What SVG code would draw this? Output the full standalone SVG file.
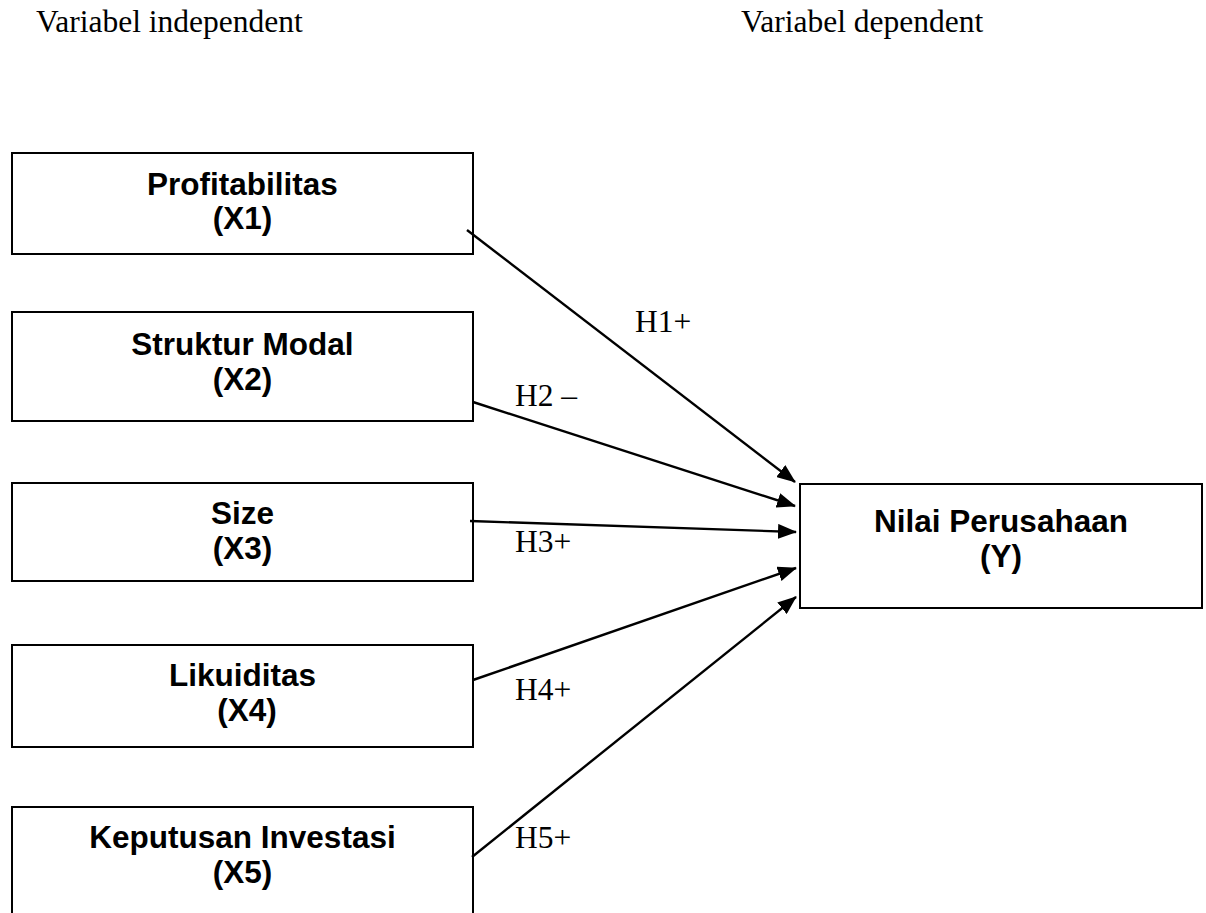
<svg xmlns="http://www.w3.org/2000/svg" width="1206" height="913" viewBox="0 0 1206 913">
  <style>
    .box { fill: #ffffff; stroke: #000000; stroke-width: 2; }
    .lbl { font-family: "Liberation Sans", Arial, sans-serif; font-weight: bold; font-size: 31.5px; fill: #000000; text-anchor: middle; }
    .hdr { font-family: "Liberation Serif", "Times New Roman", serif; font-size: 31.5px; fill: #000000; }
    .conn { stroke: #000000; stroke-width: 2.4; fill: none; marker-end: url(#arrow); }
  </style>
  <defs>
    <marker id="arrow" markerUnits="userSpaceOnUse" viewBox="0 0 19 15" refX="18" refY="7.5" markerWidth="19" markerHeight="15" orient="auto">
      <path d="M0,0 L19,7.5 L0,15 Z" fill="#000000"/>
    </marker>
  </defs>
  <rect width="1206" height="913" fill="#ffffff"/>

  <g id="headers">
    <text class="hdr" x="36" y="32">Variabel independent</text>
    <text class="hdr" x="741" y="32">Variabel dependent</text>
  </g>

  <g id="x1">
    <rect class="box" x="12" y="153" width="461" height="101"/>
    <text class="lbl" x="242.5" y="195">Profitabilitas</text>
    <text class="lbl" x="242.5" y="229">(X1)</text>
  </g>
  <g id="x2">
    <rect class="box" x="12" y="312" width="461" height="109"/>
    <text class="lbl" x="242.5" y="355">Struktur Modal</text>
    <text class="lbl" x="242.5" y="390">(X2)</text>
  </g>
  <g id="x3">
    <rect class="box" x="12" y="483" width="461" height="98"/>
    <text class="lbl" x="242.5" y="524">Size</text>
    <text class="lbl" x="242.5" y="559">(X3)</text>
  </g>
  <g id="x4">
    <rect class="box" x="12" y="645" width="461" height="102"/>
    <text class="lbl" x="242.5" y="686">Likuiditas</text>
    <text class="lbl" x="247" y="721">(X4)</text>
  </g>
  <g id="x5">
    <rect class="box" x="12" y="807" width="461" height="120"/>
    <text class="lbl" x="242.5" y="848">Keputusan Investasi</text>
    <text class="lbl" x="242.5" y="883">(X5)</text>
  </g>
  <g id="y">
    <rect class="box" x="800" y="484" width="402" height="124"/>
    <text class="lbl" x="1001" y="532">Nilai Perusahaan</text>
    <text class="lbl" x="1001" y="567">(Y)</text>
  </g>

  <g id="connectors">
    <line class="conn" x1="467" y1="230" x2="795" y2="482"/>
    <line class="conn" x1="473" y1="402" x2="795" y2="506"/>
    <line class="conn" x1="470" y1="521" x2="796" y2="532"/>
    <line class="conn" x1="473" y1="680" x2="796" y2="568"/>
    <line class="conn" x1="472" y1="857" x2="796" y2="597"/>
    <text class="hdr" x="635" y="332">H1+</text>
    <text class="hdr" x="515" y="406">H2 –</text>
    <text class="hdr" x="515" y="552">H3+</text>
    <text class="hdr" x="515" y="700">H4+</text>
    <text class="hdr" x="515" y="848">H5+</text>
  </g>
</svg>
